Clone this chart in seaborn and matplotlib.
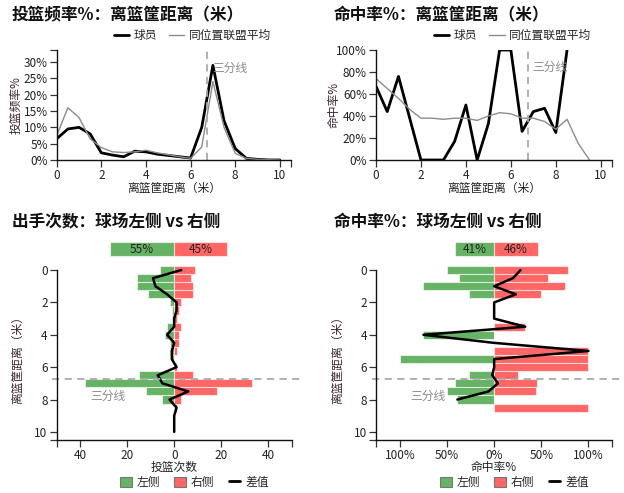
# Shooting profile: shot frequency / FG% by distance, and left vs right side split
import pandas as pd
import seaborn as sns
import matplotlib.pyplot as plt
import matplotlib.patches as mpatches
from matplotlib.lines import Line2D

sns.set_theme(style="ticks")
plt.rcParams['font.family'] = ['Noto Sans CJK SC', 'DejaVu Sans']
plt.rcParams['axes.unicode_minus'] = False

# distance bins (m)
dist = [0, 0.5, 1, 1.5, 2, 2.5, 3, 3.5, 4, 4.5, 5, 5.5, 6, 6.5, 7, 7.5, 8, 8.5, 9, 9.5, 10]

# shot frequency (%) by distance
freq_player = [6.5, 9.5, 10, 8, 2.2, 1.5, 1, 2.7, 2.5, 1.8, 1.4, 1, 0.6, 10, 29, 12, 3.5, 0.5, 0.2, 0, 0]
freq_league = [7.5, 16, 13, 6.5, 3.8, 2.5, 2.3, 2.5, 3, 2.2, 1.6, 1, 0.5, 4, 24, 10, 2, 0.5, 0.2, 0.1, 0]

# FG% by distance
fg_player = [0.67, 0.44, 0.76, 0.38, 0, 0, 0, 0.17, 0.50, 0, 0.33, 1.0, 1.0, 0.26, 0.44, 0.47, 0.25, 1.0]
fg_league = [0.74, 0.65, 0.56, 0.46, 0.38, 0.38, 0.37, 0.38, 0.38, 0.36, 0.40, 0.43, 0.42, 0.38, 0.38,
             0.35, 0.28, 0.37, 0.15, 0]

# attempts by side
att_left = [6, 16, 16, 11, 2, 1, 1, 3, 4, 2, 2, 1, 0, 15, 38, 12, 5, 0, 0, 0, 0]
att_right = [9, 7, 8, 8, 3, 2, 1, 3, 2, 2, 1, 0, 1, 8, 33, 18, 3, 1, 0, 0, 0]
att_diff = [3, -9, -8, -3, 1, 1, 0, 0, -3, 0, -1, -1, 1, -7, -5, 6, -2, 1, 0, 0, 0]
att_share = [55, 45]  # left, right (%)

# FG% by side
fg_left = [0.50, 0.37, 0.75, 0.27, 0, 0, 0, 0, 0.75, 0, 0, 1.0, 0, 0.27, 0.41, 0.50, 0.39, 0, 0, 0, 0]
fg_right = [0.78, 0.57, 0.75, 0.50, 0, 0, 0, 0.33, 0, 0, 1.0, 1.0, 1.0, 0.25, 0.45, 0.44, 0, 1.0, 0, 0, 0]
fg_diff = [0.28, 0.20, 0, 0.23, 0, 0, 0, 0.33, -0.75, 0, 1.0, 0, 0, -0.02, 0.04, -0.06, -0.39]
fg_share = [41, 46]  # left, right (%)

THREE = 6.75
GREEN = '#66b366'
RED = '#ff6666'
TXT = '#222222'
LBL = '#3a2432'

W, H = 624, 493
fig = plt.figure(figsize=(W / 100, H / 100), dpi=100)


def px_axes(x0, y0, x1, y1):
    return fig.add_axes([x0 / W, 1 - y1 / H, (x1 - x0) / W, (y1 - y0) / H])


def style(ax):
    sns.despine(ax=ax)
    ax.tick_params(which='both', length=5, width=0.9, color='#333', labelsize=8.5,
                   labelcolor=TXT, pad=1.5)
    for s in ['left', 'bottom']:
        ax.spines[s].set_linewidth(1.0)
        ax.spines[s].set_color('#111')
    ax.grid(False)


ax1 = px_axes(56.7, 50, 291, 160)
ax2 = px_axes(376, 50, 612, 160)
ax3 = px_axes(56.7, 266, 291.7, 440)
ax4 = px_axes(376.3, 266, 612, 440)

# ---- top left: shot frequency
sns.lineplot(x=dist, y=freq_player, color='black', lw=2.0, label='球员', ax=ax1)
sns.lineplot(x=dist, y=freq_league, color='#8c8c8c', lw=1.0, label='同位置联盟平均', ax=ax1)
ax1.set_xlim(0, 10.5)
ax1.set_ylim(0, 33.7)
ax1.set_yticks(range(0, 31, 5))
ax1.set_yticklabels([f'{v}%' for v in range(0, 31, 5)])
ax1.set_xticks(range(0, 11, 2))
ax1.set_xticks([10.5], minor=True)
ax1.set_yticks([33.7], minor=True)
ax1.axvline(THREE, color='#aaaaaa', ls=(0, (4, 3)), lw=1.3)
ax1.text(THREE + 0.22, 28.2, '三分线', color='#8a8a8a', fontsize=8.5, va='center')
ax1.set_ylabel('投篮频率%', fontsize=8.5, color=LBL)
ax1.yaxis.set_label_coords(-0.144, 0.5)

# ---- top right: FG%
sns.lineplot(x=dist[:len(fg_player)], y=fg_player, color='black', lw=2.0, label='球员', ax=ax2)
sns.lineplot(x=dist[:len(fg_league)], y=fg_league, color='#8c8c8c', lw=1.0, label='同位置联盟平均', ax=ax2)
ax2.set_xlim(0, 10.5)
ax2.set_ylim(0, 1)
ax2.set_yticks([0, 0.2, 0.4, 0.6, 0.8, 1.0])
ax2.set_yticklabels(['0%', '20%', '40%', '60%', '80%', '100%'])
ax2.set_xticks(range(0, 11, 2))
ax2.set_xticks([10.5], minor=True)
ax2.axvline(THREE, color='#aaaaaa', ls=(0, (4, 3)), lw=1.3)
ax2.text(THREE + 0.22, 0.84, '三分线', color='#8a8a8a', fontsize=8.5, va='center')
ax2.set_ylabel('命中率%', fontsize=8.5, color=LBL)
ax2.yaxis.set_label_coords(-0.148, 0.5)

for ax in (ax1, ax2):
    style(ax)
    ax.set_xlabel('离篮筐距离（米）', fontsize=8.5, color=TXT)
    ax.xaxis.set_label_coords(0.5, -0.195)
    ax.legend(loc='center', bbox_to_anchor=(0.58, 1.135), ncol=2, frameon=False,
              fontsize=8.5, handlelength=1.3, handletextpad=0.4, columnspacing=1.0,
              borderaxespad=0)


# ---- bottom: left vs right
def side_panel(ax, left, right, diff, share, scale, xmax, ticks, ticklabels, xlabel, label_x, ylab_x):
    df = pd.DataFrame({'dist': dist, 'left': [-v for v in left], 'right': right})
    for col, c in (('left', GREEN), ('right', RED)):
        sns.barplot(data=df, x=col, y='dist', orient='y', native_scale=True, width=1,
                    color=c, saturation=1, errorbar=None, edgecolor=(1, 1, 1, 0.6),
                    linewidth=0.8, ax=ax)
    sns.lineplot(x=diff, y=dist[:len(diff)], orient='y', sort=False, estimator=None,
                 color='black', lw=1.8, ax=ax)
    # overall share bar above the plot
    ax.barh([-1.3], [-share[0] * scale], height=0.87, color=GREEN, edgecolor=(1, 1, 1, 0.6),
            lw=0.8, clip_on=False)
    ax.barh([-1.3], [share[1] * scale], height=0.87, color=RED, edgecolor=(1, 1, 1, 0.6),
            lw=0.8, clip_on=False)
    ax.text(-share[0] * scale / 2, -1.3, f'{share[0]}%', ha='center', va='center',
            fontsize=8.5, color=TXT)
    ax.text(share[1] * scale / 2, -1.3, f'{share[1]}%', ha='center', va='center',
            fontsize=8.5, color=TXT)

    ax.axhline(THREE, color='#aaaaaa', ls=(0, (4, 3)), lw=1.3, xmin=-0.02, xmax=1.05, clip_on=False)
    ax.text(label_x, 7.83, '三分线', color='#8a8a8a', fontsize=8.5, va='center')
    ax.set_xlim(-xmax, xmax)
    ax.set_ylim(10.5, -0.25)
    ax.set_xticks(ticks)
    ax.set_xticklabels(ticklabels)
    ax.set_xticks([-xmax, xmax], minor=True)
    ax.set_yticks(range(0, 11, 2))
    ax.set_yticks([10.5], minor=True)
    style(ax)
    ax.spines['left'].set_bounds(0, 10.5)
    ax.set_xlabel(xlabel, fontsize=8.5, color=TXT)
    ax.xaxis.set_label_coords(0.5, -0.118)
    ax.set_ylabel('离篮筐距离（米）', fontsize=8.5, color=LBL)
    ax.yaxis.set_label_coords(ylab_x, 0.477)
    handles = [mpatches.Patch(facecolor=GREEN, edgecolor='#777777', lw=0.8),
               mpatches.Patch(facecolor=RED, edgecolor='#777777', lw=0.8),
               Line2D([], [], color='black', lw=2)]
    ax.legend(handles, ['左侧', '右侧', '差值'], loc='center', bbox_to_anchor=(0.586, -0.245),
              ncol=3, frameon=False, fontsize=8.5, handlelength=1.0, handleheight=1.0,
              handletextpad=0.4, columnspacing=1.2, borderaxespad=0)


side_panel(ax3, att_left, att_right, att_diff, att_share, 0.5, 50,
           [-40, -20, 0, 20, 40], ['40', '20', '0', '20', '40'], '投篮次数', -35.7, -0.14)
side_panel(ax4, fg_left, fg_right, fg_diff, fg_share, 0.01, 1.25,
           [-1, -0.5, 0, 0.5, 1], ['100%', '50%', '0%', '50%', '100%'], '命中率%', -0.89, -0.137)

fig.text(12 / W, 1 - 15 / H, '投篮频率%：离篮筐距离（米）', fontsize=12, fontweight='bold',
         va='center', ha='left', color='#111')
fig.text(334 / W, 1 - 15 / H, '命中率%：离篮筐距离（米）', fontsize=12, fontweight='bold',
         va='center', ha='left', color='#111')
fig.text(12 / W, 1 - 222 / H, '出手次数：球场左侧 vs 右侧', fontsize=12, fontweight='bold',
         va='center', ha='left', color='#111')
fig.text(334 / W, 1 - 222 / H, '命中率%：球场左侧 vs 右侧', fontsize=12, fontweight='bold',
         va='center', ha='left', color='#111')

fig.savefig('out.png', dpi=100)
